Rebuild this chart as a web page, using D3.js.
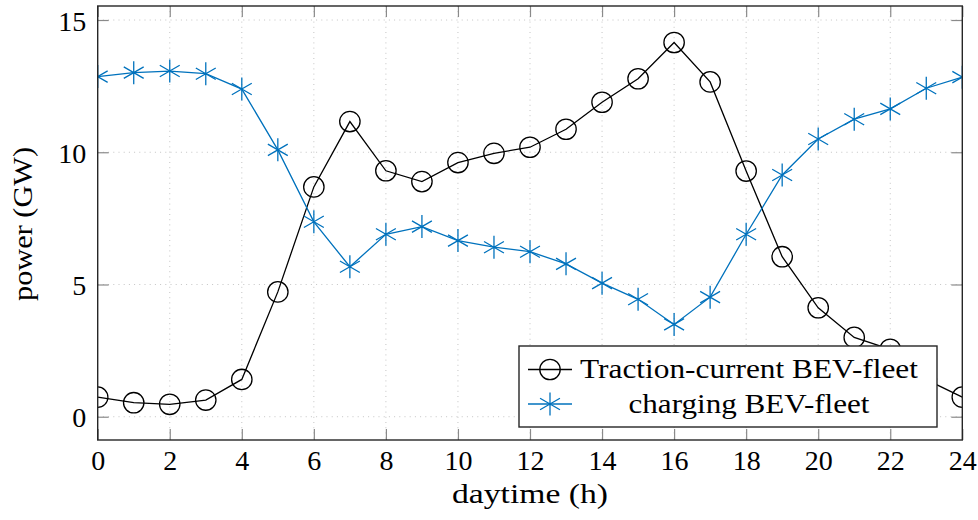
<!DOCTYPE html>
<html>
<head>
<meta charset="utf-8">
<script src="https://cdn.jsdelivr.net/npm/d3@7"></script>
<style>
  body { margin: 0; background: #fff; }
  text { font-family: "Liberation Serif", "DejaVu Serif", serif; fill: #000; }
</style>
</head>
<body>
<div id="vizcont"></div>
<script>
// values (GW per hour of day)
var hours = d3.range(0, 25);
var traction = [0.74, 0.53, 0.47, 0.63, 1.41, 4.72, 8.69, 11.16, 9.30, 8.89, 9.61, 9.96, 10.19,
                10.87, 11.89, 12.78, 14.15, 12.66, 9.29, 6.05, 4.12, 3.00, 2.55, 1.40, 0.74];
var charging = [12.86, 13.01, 13.07, 12.97, 12.39, 10.09, 7.37, 5.67, 6.90, 7.19, 6.66, 6.41, 6.24,
                5.78, 5.05, 4.44, 3.49, 4.52, 6.90, 9.14, 10.50, 11.25, 11.64, 12.42, 12.84];
var xTicks = [0, 2, 4, 6, 8, 10, 12, 14, 16, 18, 20, 22, 24];
var yTicks = [0, 5, 10, 15];
var seriesNames = ["Traction-current BEV-fleet", "charging BEV-fleet"];

var blue = "#0072bd";

// set the perimeters
var W = 978, H = 520;
var margin = {top: 6, right: 978 - 962.3, bottom: 520 - 440, left: 97.7};
var width = W - margin.left - margin.right;
var height = H - margin.top - margin.bottom;

var svg = d3.select("#vizcont")
    .append("svg")
    .attr("width", W)
    .attr("height", H)
    .append("g")
      .attr("transform", "translate(" + margin.left + "," + margin.top + ")");

var x = d3.scaleLinear().domain([0, 24]).range([0, width]);
var y = d3.scaleLinear().domain([-0.88, 15.53]).range([height, 0]);

// dotted grid
svg.append("g").selectAll("line").data(xTicks.slice(1, -1)).enter().append("line")
    .attr("x1", function(d) { return x(d); }).attr("x2", function(d) { return x(d); })
    .attr("y1", 0).attr("y2", height)
    .attr("stroke", "#c4c4c4").attr("stroke-width", 1).attr("stroke-dasharray", "1,4.2");
svg.append("g").selectAll("line").data(yTicks).enter().append("line")
    .attr("y1", function(d) { return y(d); }).attr("y2", function(d) { return y(d); })
    .attr("x1", 0).attr("x2", width)
    .attr("stroke", "#c4c4c4").attr("stroke-width", 1).attr("stroke-dasharray", "1,4.2");

// inward ticks on all four sides
var tl = 11;
var bottomAxis = d3.axisBottom(x).tickValues(xTicks).tickSize(-tl).tickPadding(10).tickFormat(d3.format("d"));
var topAxis = d3.axisTop(x).tickValues(xTicks).tickSize(-tl).tickFormat("");
var leftAxis = d3.axisLeft(y).tickValues(yTicks).tickSize(-tl).tickPadding(22);
var rightAxis = d3.axisRight(y).tickValues(yTicks).tickSize(-tl).tickFormat("");

function styleAxis(g) {
  g.select(".domain").remove();
  g.selectAll(".tick line").attr("stroke", "#8a8a8a").attr("stroke-width", 1.2);
  g.selectAll(".tick text").attr("font-family", "Liberation Serif").attr("font-size", 28).attr("fill", "#000");
}
svg.append("g").attr("transform", "translate(0," + height + ")").call(bottomAxis).call(styleAxis)
    .selectAll(".tick text").attr("dy", null).attr("y", 30);
svg.append("g").call(topAxis).call(styleAxis);
svg.append("g").call(leftAxis).call(styleAxis)
    .selectAll(".tick text").attr("dy", null).attr("x", -11.5).attr("y", 10);
svg.append("g").attr("transform", "translate(" + width + ",0)").call(rightAxis).call(styleAxis);

// clip
svg.append("clipPath").attr("id", "clip").append("rect")
    .attr("width", width).attr("height", height);

var plot = svg.append("g").attr("clip-path", "url(#clip)");

function lineFor(vals) {
  return d3.line()
    .x(function(d, i) { return x(hours[i]); })
    .y(function(d) { return y(d); })(vals);
}

function starPath(r) {
  var p = "";
  [90, 30, 150].forEach(function(a) {
    var rad = a * Math.PI / 180, dx = r * Math.cos(rad), dy = r * Math.sin(rad);
    p += "M" + (-dx) + "," + (-dy) + "L" + dx + "," + dy;
  });
  return p;
}

// traction current series
plot.append("path").attr("d", lineFor(traction))
    .attr("fill", "none").attr("stroke", "#000").attr("stroke-width", 1.3);
plot.append("g").selectAll("circle").data(traction).enter().append("circle")
    .attr("cx", function(d, i) { return x(hours[i]); })
    .attr("cy", function(d) { return y(d); })
    .attr("r", 10.2)
    .attr("fill", "none").attr("stroke", "#000").attr("stroke-width", 1.3);

// charging series
plot.append("path").attr("d", lineFor(charging))
    .attr("fill", "none").attr("stroke", blue).attr("stroke-width", 1.3);
plot.append("g").selectAll("path").data(charging).enter().append("path")
    .attr("transform", function(d, i) { return "translate(" + x(hours[i]) + "," + y(d) + ")"; })
    .attr("d", starPath(11.5))
    .attr("fill", "none").attr("stroke", blue).attr("stroke-width", 1.3);

// frame
svg.append("rect").attr("width", width).attr("height", height)
    .attr("fill", "none").attr("stroke", "#262626").attr("stroke-width", 1.4);

// axis labels (widths stretched toward the Computer Modern look of the original)
svg.append("text")
    .attr("x", width / 2).attr("y", 503 - margin.top)
    .attr("text-anchor", "middle").attr("font-size", 28)
    .attr("textLength", 156).attr("lengthAdjust", "spacingAndGlyphs")
    .text("daytime (h)");
svg.append("text")
    .attr("transform", "translate(" + (32 - margin.left) + "," + (224 - margin.top) + ") rotate(-90)")
    .attr("text-anchor", "middle").attr("font-size", 28)
    .attr("textLength", 154).attr("lengthAdjust", "spacingAndGlyphs")
    .text("power (GW)");

// legend
var lg = svg.append("g").attr("transform", "translate(" + (519 - margin.left) + "," + (346 - margin.top) + ")");
lg.append("rect").attr("width", 418).attr("height", 81)
    .attr("fill", "#fff").attr("stroke", "#262626").attr("stroke-width", 1.4);
var rows = [23.5, 58];
var textLens = [338, 241];
lg.append("line").attr("x1", 9).attr("x2", 53).attr("y1", rows[0]).attr("y2", rows[0])
    .attr("stroke", "#000").attr("stroke-width", 1.3);
lg.append("circle").attr("cx", 31).attr("cy", rows[0]).attr("r", 10.2)
    .attr("fill", "none").attr("stroke", "#000").attr("stroke-width", 1.3);
lg.append("line").attr("x1", 9).attr("x2", 53).attr("y1", rows[1]).attr("y2", rows[1])
    .attr("stroke", blue).attr("stroke-width", 1.3);
lg.append("path").attr("transform", "translate(31," + rows[1] + ")").attr("d", starPath(11.5))
    .attr("fill", "none").attr("stroke", blue).attr("stroke-width", 1.3);
lg.selectAll("text.lbl").data(seriesNames).enter().append("text")
    .attr("class", "lbl")
    .attr("x", 230).attr("y", function(d, i) { return rows[i] + 8.5; })
    .attr("text-anchor", "middle").attr("font-size", 28)
    .attr("textLength", function(d, i) { return textLens[i]; })
    .attr("lengthAdjust", "spacingAndGlyphs")
    .text(function(d) { return d; });
</script>
</body>
</html>
